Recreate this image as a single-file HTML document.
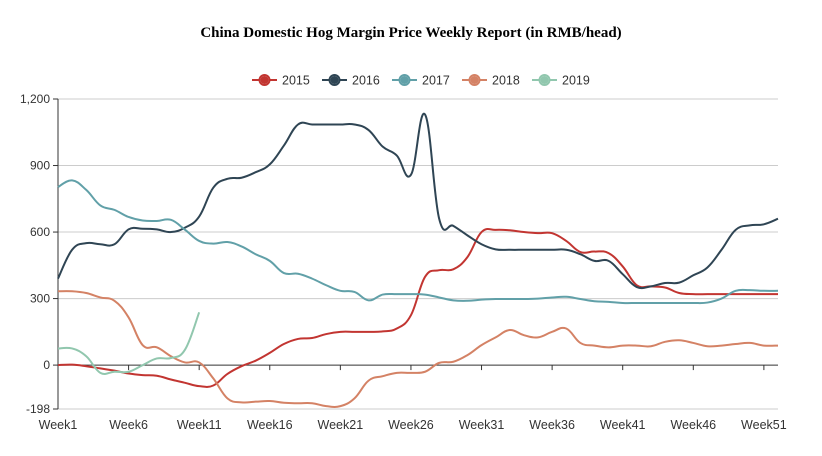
<!DOCTYPE html>
<html><head><meta charset="utf-8"><style>
html,body{margin:0;padding:0;background:#fff;}
svg{display:block;font-family:"Liberation Sans",sans-serif;}
</style></head><body>
<svg id="chart" width="822" height="456" viewBox="0 0 822 456">
<text x="411" y="37" text-anchor="middle" font-family="Liberation Serif,serif" font-weight="bold" font-size="15" fill="#000">China Domestic Hog Margin Price Weekly Report (in RMB/head)</text>
<g id="legend"></g>
<g id="grid"></g><g id="axes"></g><g id="series"></g>
</svg>
<script>
const years=['2015','2016','2017','2018','2019'];
const colors=['#c23531','#2f4554','#61a0a8','#d48265','#91c7ae'];
const yTicks=[-198,0,300,600,900,1200];
const xTickWeeks=[1,6,11,16,21,26,31,36,41,46,51];
const s2015=[0,2,-5,-15,-25,-38,-45,-48,-65,-80,-95,-92,-40,-5,20,55,95,118,122,140,150,150,150,152,165,225,398,428,432,487,600,610,608,600,595,595,560,510,512,505,445,360,355,350,325,320,320,320,320,320,320,320];
const s2016=[390,520,550,545,545,612,615,612,600,620,670,800,840,845,870,905,990,1085,1085,1085,1085,1085,1060,985,945,858,1130,660,628,585,545,522,520,520,520,520,520,500,470,470,410,352,355,370,372,405,440,520,610,630,635,660];
const s2017=[803,833,790,720,700,668,652,650,655,610,560,548,555,535,500,470,415,412,390,360,335,330,292,318,320,320,318,305,292,290,295,298,298,298,300,305,308,298,288,285,280,280,280,280,280,280,282,300,335,338,335,335];
const s2018=[333,333,325,305,290,215,90,80,40,12,12,-60,-150,-168,-165,-162,-170,-172,-172,-185,-185,-150,-70,-50,-35,-35,-30,10,15,45,90,125,158,135,125,150,165,100,88,80,88,88,85,105,112,100,85,88,95,100,88,88];
const s2019=[75,75,40,-35,-30,-30,0,30,32,70,238];
const seriesData=[s2015,s2016,s2017,s2018,s2019];

const NS='http://www.w3.org/2000/svg';
const X0=58,X1=778,Y0=409,Y1=99,VMIN=-198,VMAX=1200;
const xS=w=>X0+(w-1)*(X1-X0)/51;
const yS=v=>Y0-(v-VMIN)*(Y0-Y1)/(VMAX-VMIN);
function mk(tag,at,parent){const e=document.createElementNS(NS,tag);for(const k in at)e.setAttribute(k,at[k]);parent.appendChild(e);return e;}
const grid=document.getElementById('grid'),axes=document.getElementById('axes'),ser=document.getElementById('series'),leg=document.getElementById('legend');
yTicks.forEach(t=>{
  const y=yS(t);
  if(t!==0){const g=mk('line',{x1:X0,x2:X1,y1:y,y2:y,stroke:'#ccc','stroke-width':1},grid);
  
  }
  mk('line',{x1:X0-5,x2:X0,y1:y,y2:y,stroke:'#333'},axes);
  const lb=mk('text',{x:X0-8,y:y+4,'text-anchor':'end','font-size':12,fill:'#333'},axes);
  lb.textContent=t.toLocaleString('en-US');
  
  
});
const ya=mk('line',{x1:X0,x2:X0,y1:Y1,y2:Y0,stroke:'#333'},axes);


const xa=mk('line',{x1:X0,x2:X1,y1:yS(0),y2:yS(0),stroke:'#333'},axes);


xTickWeeks.forEach(w=>{
  const x=xS(w);
  mk('line',{x1:x,x2:x,y1:yS(0),y2:yS(0)+5,stroke:'#333'},axes);
  const lb=mk('text',{x:x,y:429,'text-anchor':'middle','font-size':12.5,fill:'#333'},axes);
  lb.textContent='Week'+w;
  
  
});
function smooth(pts){
  let d='M'+pts[0][0]+','+pts[0][1];
  for(let i=0;i<pts.length-1;i++){
    const p0=pts[Math.max(i-1,0)],p1=pts[i],p2=pts[i+1],p3=pts[Math.min(i+2,pts.length-1)];
    const t=0.2;
    const c1=[p1[0]+(p2[0]-p0[0])*t,p1[1]+(p2[1]-p0[1])*t];
    const c2=[p2[0]-(p3[0]-p1[0])*t,p2[1]-(p3[1]-p1[1])*t];
    d+=' C'+c1[0]+','+c1[1]+' '+c2[0]+','+c2[1]+' '+p2[0]+','+p2[1];
  }
  return d;
}
seriesData.forEach((arr,i)=>{
  const pts=arr.map((v,k)=>[xS(k+1),yS(v)]);
  const p=mk('path',{d:smooth(pts),fill:'none',stroke:colors[i],'stroke-width':2},ser);
  
  
});
const lx=[252,322,392,462,532];
years.forEach((yr,i)=>{
  const g=mk('g',{},leg);
  
  
  const x=lx[i];
  mk('line',{x1:x,x2:x+25,y1:80,y2:80,stroke:colors[i],'stroke-width':2},g);
  mk('circle',{cx:x+12.5,cy:80,r:5,fill:'#fff',stroke:colors[i],'stroke-width':2},g);
  mk('circle',{cx:x+12.5,cy:80,r:4,fill:colors[i]},g);
  const t=mk('text',{x:x+30,y:84.5,'font-size':12.5,fill:'#333'},g);
  t.textContent=yr;
});
</script>
</body></html>
